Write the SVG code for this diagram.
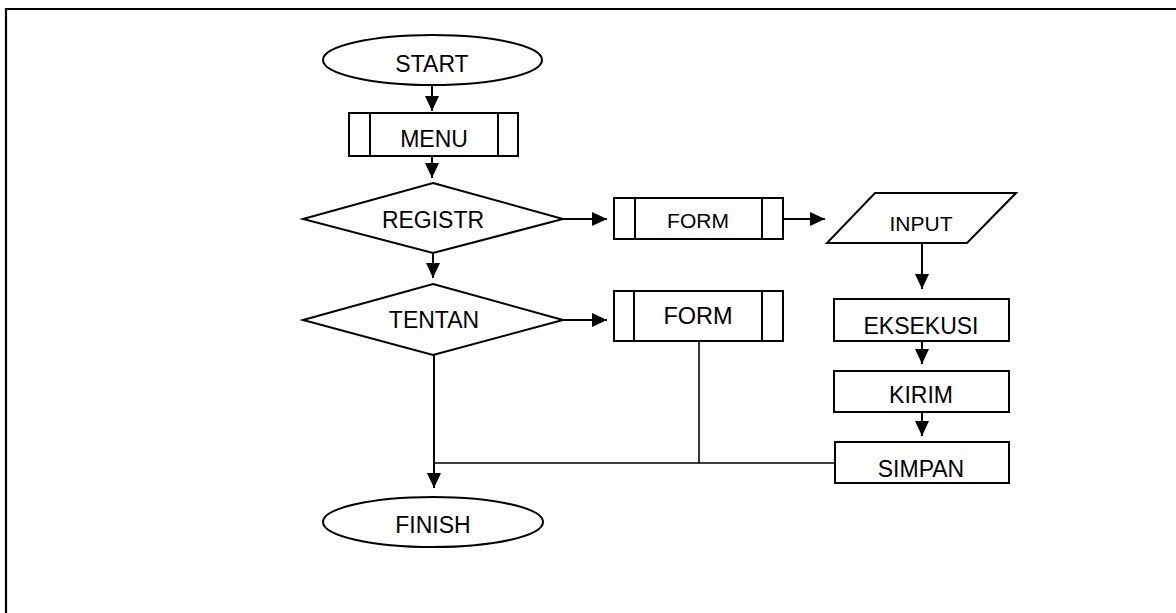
<svg xmlns="http://www.w3.org/2000/svg" width="1176" height="613" viewBox="0 0 1176 613">
<style>
.shape{fill:#fff;stroke:#000;stroke-width:2}
.inner{stroke:#000;stroke-width:2;fill:none}
.conn{stroke:#000;stroke-width:2;fill:none}
.thin{stroke:#000;stroke-width:1.6;fill:none}
text{font-family:"Liberation Sans",Arial,sans-serif;font-size:23px;fill:#000;text-anchor:middle}
</style>
<defs>
<marker id="ah" viewBox="0 0 15 14" refX="15" refY="7" markerWidth="15" markerHeight="14" markerUnits="userSpaceOnUse" orient="auto">
<path d="M0,0 L15,7 L0,14 Z" fill="#000"/>
</marker>
</defs>
<rect width="1176" height="613" fill="#fff"/>
<g id="frame">
<path d="M6,613 L6,9 L1176,9" fill="none" stroke="#000" stroke-width="2.2"/>
</g>
<g id="connectors">
<line class="conn" x1="432" y1="85" x2="432" y2="111" marker-end="url(#ah)"/>
<line class="conn" x1="432" y1="156" x2="432" y2="178" marker-end="url(#ah)"/>
<line class="conn" x1="433" y1="253" x2="433" y2="278" marker-end="url(#ah)"/>
<line class="conn" x1="563" y1="219" x2="607" y2="219" marker-end="url(#ah)"/>
<line class="conn" x1="563" y1="320" x2="607" y2="320" marker-end="url(#ah)"/>
<line class="conn" x1="783" y1="219" x2="825" y2="219" marker-end="url(#ah)"/>
<line class="conn" x1="922" y1="243" x2="922" y2="289" marker-end="url(#ah)"/>
<line class="conn" x1="922" y1="341" x2="922" y2="364" marker-end="url(#ah)"/>
<line class="conn" x1="922" y1="412" x2="922" y2="436" marker-end="url(#ah)"/>
<line class="conn" x1="434" y1="355" x2="434" y2="488" stroke-width="2.4" marker-end="url(#ah)"/>
<line class="thin" x1="699" y1="341" x2="699" y2="463"/>
<line class="thin" x1="434" y1="463" x2="835" y2="463"/>
</g>
<g id="start">
<ellipse class="shape" cx="432.5" cy="60" rx="109.5" ry="25"/>
<text x="432" y="72">START</text>
</g>
<g id="menu">
<rect class="shape" x="349" y="113" width="169" height="43"/>
<line class="inner" x1="370" y1="113" x2="370" y2="156"/>
<line class="inner" x1="498" y1="113" x2="498" y2="156"/>
<text x="434" y="147">MENU</text>
</g>
<g id="registr">
<polygon class="shape" points="433,183 563,219 433,253 303,219"/>
<text x="433" y="228">REGISTR</text>
</g>
<g id="tentan">
<polygon class="shape" points="433,284 563,320 433,355 303,320"/>
<text x="434" y="328">TENTAN</text>
</g>
<g id="form1">
<rect class="shape" x="614" y="198" width="169" height="41"/>
<line class="inner" x1="635" y1="198" x2="635" y2="239"/>
<line class="inner" x1="762" y1="198" x2="762" y2="239"/>
<text x="698" y="228" style="font-size:21px">FORM</text>
</g>
<g id="form2">
<rect class="shape" x="614" y="291" width="169" height="50"/>
<line class="inner" x1="634" y1="291" x2="634" y2="341"/>
<line class="inner" x1="762" y1="291" x2="762" y2="341"/>
<text x="698" y="324" style="font-size:23.5px">FORM</text>
</g>
<g id="input">
<polygon class="shape" points="875,193 1016,193 967,243 827,243"/>
<text x="921" y="231" style="font-size:21px">INPUT</text>
</g>
<g id="eksekusi">
<rect class="shape" x="834" y="299" width="175" height="42"/>
<text x="921" y="334">EKSEKUSI</text>
</g>
<g id="kirim">
<rect class="shape" x="834" y="371" width="175" height="41"/>
<text x="921" y="403">KIRIM</text>
</g>
<g id="simpan">
<rect class="shape" x="835" y="442" width="174" height="41"/>
<text x="921" y="477">SIMPAN</text>
</g>
<g id="finish">
<ellipse class="shape" cx="433" cy="522" rx="110" ry="25"/>
<text x="433" y="533">FINISH</text>
</g>
</svg>
